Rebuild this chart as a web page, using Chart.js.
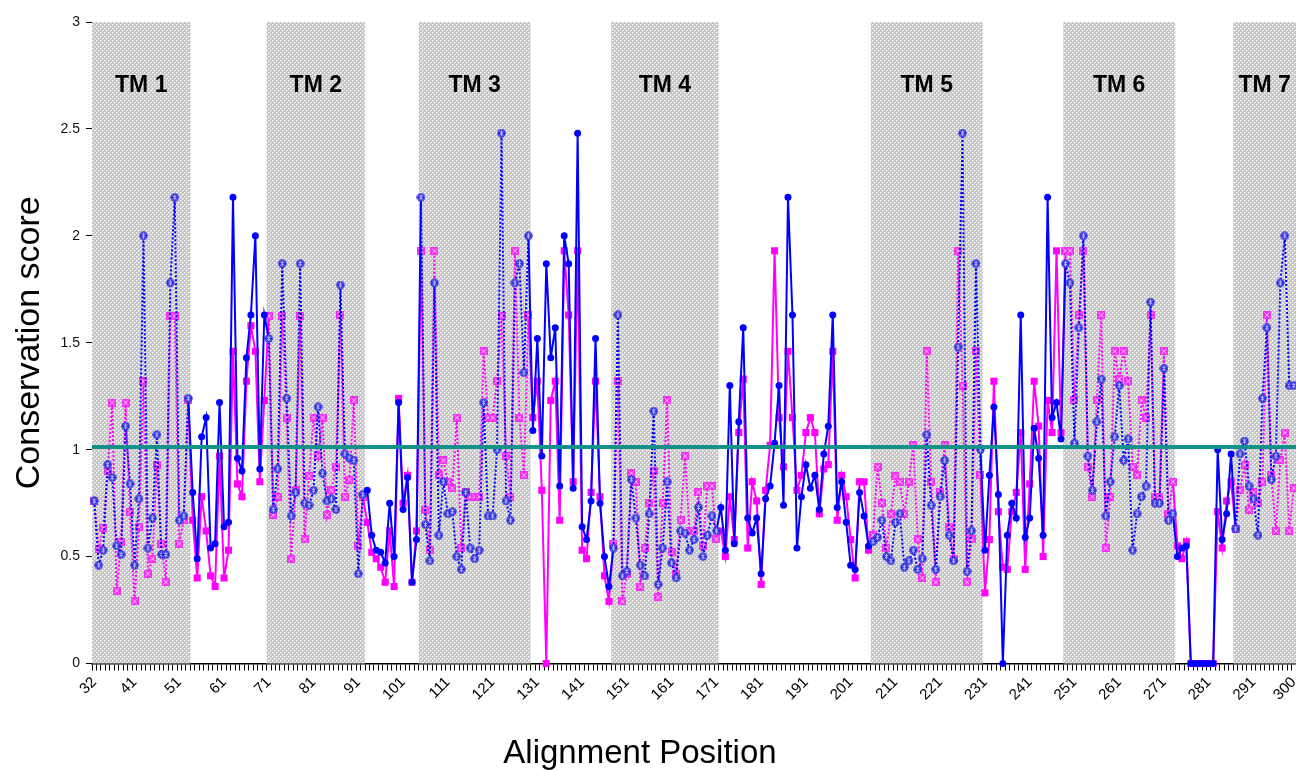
<!DOCTYPE html>
<html><head><meta charset="utf-8">
<script src="https://cdn.jsdelivr.net/npm/chart.js@4.4.1/dist/chart.umd.min.js"></script>
<style>
html,body{margin:0;padding:0;background:#fff;overflow:hidden;}
#wrap{width:1296px;height:770px;overflow:hidden;position:relative;}
#c{display:block;}
</style>
</head><body>
<div id="wrap"><canvas id="c" width="1296" height="770"></canvas></div>
<script>
// ---------- data ----------
const FIRST_POS = 32, LAST_POS = 300;
const positions = [];
for (let p = FIRST_POS; p <= LAST_POS; p++) positions.push(p);
const tickLabels = [32,41,51,61,71,81,91,101,111,121,131,141,151,161,171,181,191,201,211,221,231,241,251,261,271,281,291,300];

const blueScores = [
0.76,0.46,0.53,0.93,0.87,0.55,0.51,1.11,0.84,0.46,
0.77,2.0,0.54,0.68,1.07,0.51,0.51,1.78,2.18,0.67,
0.69,1.24,0.80,0.49,1.06,1.15,0.54,0.56,1.22,0.64,
0.66,2.18,0.96,0.90,1.43,1.63,2.0,0.91,1.63,1.52,
0.72,0.91,1.87,1.24,0.69,0.80,1.87,0.75,0.74,0.81,
1.20,0.89,0.76,0.77,0.72,1.77,0.98,0.96,0.95,0.42,
0.79,0.81,0.60,0.53,0.52,0.47,0.75,0.50,1.22,0.72,
0.87,0.38,0.58,2.18,0.65,0.48,1.78,0.60,0.85,0.70,
0.71,0.50,0.44,0.80,0.54,0.49,0.53,1.22,0.69,0.69,
1.0,2.48,0.76,0.67,1.78,1.87,1.36,2.0,1.09,1.52,
0.97,1.87,1.43,1.57,0.83,2.0,1.87,0.82,2.48,0.64,
0.58,0.76,1.52,0.75,0.50,0.36,0.54,1.63,0.41,0.43,
0.86,0.68,0.46,0.41,0.70,1.18,0.37,0.54,0.85,0.47,
0.40,0.62,0.61,0.53,0.58,0.73,0.50,0.60,0.69,0.62,
0.73,0.53,1.30,0.56,1.13,1.57,0.68,0.61,0.68,0.42,
0.77,0.83,1.03,1.30,0.74,2.18,1.63,0.54,0.78,0.93,
0.82,0.88,0.72,0.98,1.11,1.63,0.73,0.85,0.66,0.46,
0.44,0.80,0.69,0.55,0.57,0.59,0.67,0.50,0.48,0.66,
0.70,0.45,0.48,0.53,0.44,0.49,1.07,0.74,0.44,0.78,
0.95,0.60,0.48,1.48,2.48,0.43,0.62,1.87,1.0,0.53,
0.88,1.20,0.79,0.0,0.60,0.75,0.68,1.63,0.59,0.68,
1.10,0.96,0.60,2.18,1.15,1.22,1.05,1.87,1.78,1.03,
1.57,2.0,0.97,0.81,1.13,1.33,0.69,0.85,1.06,1.30,
0.95,1.05,0.53,0.70,0.78,0.83,1.69,0.75,0.75,1.38,
0.67,0.70,0.50,0.54,0.55,0,0,0,0,0,
0,1.0,0.58,0.70,0.98,0.63,0.98,1.04,0.83,0.77,
0.60,1.24,1.57,0.86,0.97,1.78,2.0,1.30,1.30
];

const magentaScores = [
0.76,0.535,0.635,0.90,1.22,0.34,0.57,1.22,0.71,0.29,
0.64,1.32,0.42,0.49,0.93,0.56,0.38,1.625,1.625,0.56,
0.67,1.23,0.67,0.40,0.78,0.62,0.41,0.36,0.97,0.40,
0.53,1.46,0.84,0.78,1.32,1.58,1.46,0.85,1.23,1.625,
0.695,0.78,1.625,1.15,0.49,0.81,1.625,0.58,0.876,1.15,
0.97,1.15,0.695,0.81,0.92,1.63,0.78,0.86,1.23,0.55,
0.78,0.66,0.52,0.49,0.45,0.38,0.62,0.36,1.24,0.75,
0.88,0.38,0.62,1.93,0.72,0.53,1.93,0.88,0.95,0.85,
0.82,1.15,0.54,0.80,0.78,0.78,0.78,1.46,1.15,1.15,
1.32,1.625,0.97,0.78,1.93,1.15,0.88,1.63,1.15,1.32,
0.81,0.0,1.23,1.32,0.67,1.93,1.63,0.85,1.93,0.53,
0.49,0.80,1.32,0.78,0.41,0.29,0.56,1.32,0.29,0.42,
0.89,0.85,0.36,0.54,0.75,0.90,0.31,0.75,1.23,0.52,
0.42,0.67,0.97,0.62,0.62,0.80,0.55,0.83,0.83,0.58,
0.62,0.50,0.78,0.58,1.08,1.33,0.54,0.85,0.76,0.37,
0.81,1.02,1.93,1.15,0.92,1.46,1.15,0.81,0.88,1.08,
1.15,1.08,0.70,0.91,0.93,1.46,0.67,0.88,0.78,0.58,
0.40,0.85,0.85,0.53,0.60,0.92,0.75,0.54,0.70,0.875,
0.85,0.70,0.85,1.02,0.58,0.40,1.46,0.85,0.38,0.80,
1.02,0.64,0.49,1.93,1.30,0.38,0.58,1.46,0.88,0.33,
0.58,1.32,0.71,0.45,0.44,0.71,0.80,1.08,0.44,0.84,
1.32,1.11,0.50,1.23,1.08,1.93,1.08,1.93,1.93,1.23,
1.63,1.93,0.92,0.78,1.23,1.63,0.54,0.78,1.46,1.33,
1.46,1.32,0.92,0.88,1.23,1.15,1.63,0.78,0.78,1.46,
0.70,0.85,0.55,0.49,0.57,0,0,0,0,0,
0,0.71,0.54,0.76,0.85,0.63,0.81,0.93,0.72,0.80,
0.75,0.85,1.63,0.88,0.62,0.95,1.08,0.62,0.82
];

const tmNames = ['TM 1','TM 2','TM 3','TM 4','TM 5','TM 6','TM 7'];
const tmStart = [32, 71, 105, 148, 206, 249, 287];
const tmEnd   = [53, 92, 129, 171, 230, 273, 300];
const threshold = 1.013;

const xTitle = 'Alignment Position';
const yTitle = 'Conservation score';

// ---------- helpers ----------
const FONT = "'Liberation Sans', Arial, sans-serif";
const TARGET_RIGHT = 1296;
function inTM(idx) {
  const p = positions[idx];
  for (let k = 0; k < tmStart.length; k++) if (p >= tmStart[k] && p <= tmEnd[k]) return true;
  return false;
}
function makePattern() {
  const c = document.createElement('canvas'); c.width = 4; c.height = 4;
  const g = c.getContext('2d');
  g.fillStyle = '#c4c4c4'; g.fillRect(0,0,4,4);
  g.fillStyle = '#ffffff'; g.fillRect(0,0,1,1); g.fillRect(2,2,1,1);
  g.fillStyle = '#e2e2e2'; g.fillRect(1,0,1,1); g.fillRect(0,1,1,1); g.fillRect(3,2,1,1); g.fillRect(2,3,1,1);
  return c;
}
function blueStar() {
  const c = document.createElement('canvas'); c.width = 9; c.height = 9;
  const g = c.getContext('2d');
  g.fillStyle = '#3030dd'; g.beginPath(); g.arc(4.5,4.5,4.2,0,Math.PI*2); g.fill();
  g.strokeStyle = 'rgba(190,190,255,0.95)'; g.lineWidth = 1;
  g.beginPath(); g.moveTo(2.5,2.5); g.lineTo(6.5,6.5); g.moveTo(6.5,2.5); g.lineTo(2.5,6.5);
  g.moveTo(4.5,1.5); g.lineTo(4.5,7.5); g.stroke();
  return c;
}
function magentaStar() {
  const c = document.createElement('canvas'); c.width = 8; c.height = 8;
  const g = c.getContext('2d');
  g.fillStyle = '#f030f0'; g.fillRect(0,0,8,8);
  g.strokeStyle = 'rgba(255,190,255,0.95)'; g.lineWidth = 1;
  g.beginPath(); g.moveTo(1.5,1.5); g.lineTo(6.5,6.5); g.moveTo(6.5,1.5); g.lineTo(1.5,6.5); g.stroke();
  return c;
}
const bandPatternCanvas = makePattern();
const blueTMImg = blueStar();
const magTMImg = magentaStar();

function bandEdges(chart, k) {
  const x = chart.scales.x, ca = chart.chartArea;
  const half = (x.getPixelForValue(1) - x.getPixelForValue(0)) / 2;
  const i0 = positions.indexOf(tmStart[k]), i1 = positions.indexOf(tmEnd[k]);
  return [Math.max(x.getPixelForValue(i0) - half, ca.left), Math.min(x.getPixelForValue(i1) + half, ca.right)];
}

const bandsPlugin = {
  id: 'bands',
  beforeDatasetsDraw(chart) {
    const {ctx} = chart;
    const y = chart.scales.y;
    ctx.save();
    ctx.fillStyle = ctx.createPattern(bandPatternCanvas, 'repeat');
    const top = y.getPixelForValue(3), bot = y.getPixelForValue(0);
    for (let k = 0; k < tmStart.length; k++) {
      const [l, r] = bandEdges(chart, k);
      ctx.fillRect(l, top, r - l, bot - top);
    }
    ctx.fillStyle = '#000';
    ctx.font = 'bold 23px ' + FONT;
    ctx.textAlign = 'center'; ctx.textBaseline = 'middle';
    const ly = y.getPixelForValue(2.70);
    for (let k = 0; k < tmStart.length; k++) {
      const [l, r] = bandEdges(chart, k);
      ctx.fillText(tmNames[k], (l + r) / 2, ly);
    }
    ctx.restore();
  },
  afterDatasetsDraw(chart) {
    const {ctx, chartArea} = chart;
    const py = chart.scales.y.getPixelForValue(threshold);
    ctx.save();
    ctx.strokeStyle = '#14928a'; ctx.lineWidth = 4;
    ctx.beginPath(); ctx.moveTo(chartArea.left, py); ctx.lineTo(chartArea.right, py); ctx.stroke();
    ctx.restore();
  },
  afterDraw(chart) {
    const {ctx} = chart;
    ctx.save();
    ctx.fillStyle = '#000';
    ctx.font = '33px ' + FONT;
    ctx.textAlign = 'center'; ctx.textBaseline = 'alphabetic';
    ctx.fillText(xTitle, 640, 763);
    ctx.restore();
  }
};

const dotted = c => (inTM(c.p0DataIndex) && inTM(c.p1DataIndex)) ? [2, 2] : undefined;

const chart = new Chart(document.getElementById('c'), {
  type: 'line',
  data: {
    labels: positions,
    datasets: [
      {
        label: 'blue', data: blueScores, borderColor: '#0000ff', borderWidth: 2,
        backgroundColor: '#0000ff', pointBackgroundColor: '#0000ff', pointBorderColor: '#0000ff',
        pointStyle: c => inTM(c.dataIndex) ? blueTMImg : 'circle',
        pointRadius: 3.5, pointBorderWidth: 0, tension: 0, clip: false,
        segment: { borderDash: dotted }
      },
      {
        label: 'magenta', data: magentaScores, borderColor: '#ff00ff', borderWidth: 2,
        backgroundColor: '#ff00ff', pointBackgroundColor: '#ff00ff', pointBorderColor: '#ff00ff',
        pointStyle: c => inTM(c.dataIndex) ? magTMImg : 'rect',
        pointRadius: 5, pointBorderWidth: 0, tension: 0, clip: false,
        segment: { borderDash: dotted }
      }
    ]
  },
  options: {
    responsive: false, maintainAspectRatio: false, animation: false, devicePixelRatio: 1,
    layout: { padding: { top: 22, left: 0, right: 0, bottom: 0 } },
    plugins: { legend: { display: false }, tooltip: { enabled: false } },
    scales: {
      x: {
        type: 'category', offset: true,
        grid: { offset: true, drawOnChartArea: false, drawTicks: true, tickLength: 7, color: '#000', lineWidth: 1 },
        border: { display: true, color: '#000', width: 1.5 },
        ticks: {
          autoSkip: false, minRotation: 45, maxRotation: 45, padding: 3, color: '#000',
          font: { family: FONT, size: 15 },
          callback: (v, i) => tickLabels.includes(positions[i]) ? String(positions[i]) : ''
        },
        title: { display: false },
        afterFit: s => { s.height = 106.5; s.paddingLeft = 0; s.paddingRight = 0; }
      },
      y: {
        min: 0, max: 3,
        grid: { drawOnChartArea: false, drawTicks: true, tickLength: 6, color: '#000' },
        border: { display: true, color: '#000', width: 1, dash: [3, 2] },
        ticks: { stepSize: 0.5, padding: 6, color: '#111', font: { family: FONT, size: 14 },
                 callback: v => String(Math.round(v * 10) / 10) },
        title: { display: true, text: yTitle, color: '#000',
                 font: { family: FONT, size: 34, lineHeight: 1 }, padding: { top: 13, bottom: 0 } },
        afterFit: s => { s.width = 92; s.paddingTop = 0; s.paddingBottom = 0; }
      }
    }
  },
  plugins: [bandsPlugin]
});

// make the plot area reach the right edge of the picture, as in the reference
for (let k = 0; k < 4; k++) {
  const d = TARGET_RIGHT - chart.chartArea.right;
  if (Math.abs(d) < 0.2) break;
  chart.resize(chart.width + d, 770);
}
</script>
</body></html>
